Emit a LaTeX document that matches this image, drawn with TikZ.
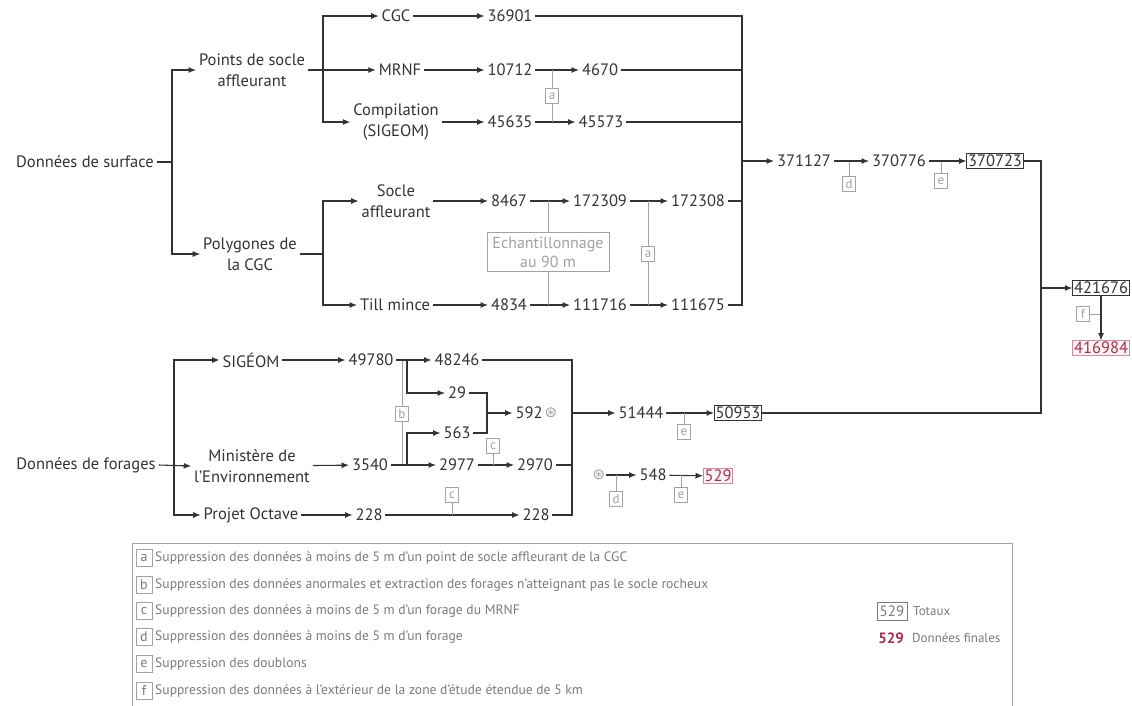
\documentclass[tikz,border=0pt]{standalone}
\usepackage{fontspec}
\setmainfont{PT Sans}
\newfontfamily\symbfont{DejaVu Sans}
\usetikzlibrary{arrows.meta}

\definecolor{ink}{HTML}{333333}
\definecolor{pale}{HTML}{A2A2A2}
\definecolor{legtxt}{HTML}{7A7A7A}
\definecolor{finale}{HTML}{A3324F}

\tikzset{
  lbl/.style={inner sep=3pt, outer sep=0pt, text=ink, align=center,
    font=\fontsize{16.5}{21}\selectfont},
  tot/.style={lbl, draw=ink, line width=1pt, inner sep=1.5pt},
  fin/.style={lbl, draw=finale!55, fill=finale!7, text=finale, line width=1pt, inner sep=1.5pt},
  lettre/.style={draw=pale, fill=white, text=pale, inner sep=0pt, line width=0.8pt,
    minimum width=13pt, minimum height=15pt, font=\fontsize{13}{13}\selectfont},
  flow/.style={draw=ink, line width=1.1pt, -{Latex[length=7.5pt,width=6pt]}},
  lien/.style={draw=ink, line width=1.1pt},
  filtre/.style={draw=pale, line width=1pt},
  etoile/.style={text=pale, inner sep=1pt, font=\symbfont\fontsize{15}{15}\selectfont},
  legende/.style={anchor=west, text=legtxt, inner sep=0pt, font=\fontsize{13.6}{14}\selectfont},
}

\begin{document}
\begin{tikzpicture}[x=1pt, y=-1pt]
  \useasboundingbox (0,0) rectangle (1132,705);

  % Surface data
  \node[lbl] (surf) at (85,162) {Données de surface};
  \node[lbl] (pts) at (252,70) {Points de socle\\affleurant};
  \node[lbl] (poly) at (250,254) {Polygones de\\la CGC};
  \node[lbl] (cgc) at (396,16) {CGC};
  \node[lbl] (mrnf) at (400,70) {MRNF};
  \node[lbl] (comp) at (396,122) {Compilation\\(SIGEOM)};
  \node[lbl] (socle) at (396,201) {Socle\\affleurant};
  \node[lbl] (till) at (395,305) {Till mince};

  \node[lbl] (n36901) at (510,16) {36901};
  \node[lbl] (n10712) at (510,70) {10712};
  \node[lbl] (n4670) at (600,70) {4670};
  \node[lbl] (n45635) at (510,122) {45635};
  \node[lbl] (n45573) at (601,122) {45573};
  \node[lbl] (n8467) at (509,201) {8467};
  \node[lbl] (n172309) at (600,201) {172309};
  \node[lbl] (n172308) at (698,201) {172308};
  \node[lbl] (n4834) at (509,305) {4834};
  \node[lbl] (n111716) at (600,305) {111716};
  \node[lbl] (n111675) at (698,305) {111675};

  \node[lbl] (n371127) at (804,161) {371127};
  \node[lbl] (n370776) at (899,161) {370776};
  \node[tot] (n370723) at (995,161) {370723};
  \node[tot] (n421676) at (1101,288) {421676};
  \node[fin] (n416984) at (1101,348) {416984};

  \node[lettre] (fa1) at (552,96) {a};
  \node[lettre] (fa2) at (648,254) {a};
  \node[lettre, minimum width=122pt, minimum height=39pt, font=\fontsize{16}{19}\selectfont, align=center] (ech) at (548,252) {Echantillonnage\\au 90 m};
  \node[lettre] (fd1) at (849,184) {d};
  \node[lettre] (fe1) at (941,181) {e};
  \node[lettre] (ff) at (1083,314) {f};

  \coordinate (js) at (172,162);
  \coordinate (jp) at (323,70);
  \coordinate (jq) at (323,254);
  \coordinate (jt) at (742,161);
  \coordinate (jr) at (1041,288);

  % Draw surface branches
  \draw[lien] (surf.east) -- (js);
  \draw[flow] (js) |- (pts.west);
  \draw[flow] (js) |- (poly.west);
  \draw[flow] (pts.east) -- (mrnf.west);
  \draw[flow] (jp) |- (cgc.west);
  \draw[flow] (jp) |- (comp.west);
  \draw[lien] (poly.east) -- (jq);
  \draw[flow] (jq) |- (socle.west);
  \draw[flow] (jq) |- (till.west);

  \draw[flow] (cgc) -- (n36901);
  \draw[flow] (mrnf) -- (n10712);
  \draw[flow] (n10712) -- (n4670);
  \draw[flow] (comp) -- (n45635);
  \draw[flow] (n45635) -- (n45573);
  \draw[flow] (socle) -- (n8467);
  \draw[flow] (n8467) -- (n172309);
  \draw[flow] (n172309) -- (n172308);
  \draw[flow] (till) -- (n4834);
  \draw[flow] (n4834) -- (n111716);
  \draw[flow] (n111716) -- (n111675);

  % Draw filters
  \draw[filtre] (fa1.north) -- (fa1 |- n10712);
  \draw[filtre] (fa1.south) -- (fa1 |- n45635);
  \draw[filtre] (ech.north) -- (ech |- n8467);
  \draw[filtre] (ech.south) -- (ech |- n4834);
  \draw[filtre] (fa2.north) -- (fa2 |- n172309);
  \draw[filtre] (fa2.south) -- (fa2 |- n111716);
  \draw[filtre] (fd1.north) -- (fd1 |- n371127);
  \draw[filtre] (fe1.north) -- (fe1 |- n370776);
  \draw[filtre] (ff.east) -- (ff.east -| n421676);

  % Draw totals
  \foreach \n in {n36901, n4670, n45573, n172308, n111675}
    \draw[lien] (\n.east) -| (jt);
  \draw[flow] (jt) -- (n371127.west);
  \draw[flow] (n371127) -- (n370776);
  \draw[flow] (n370776) -- (n370723);
  \draw[lien] (n370723.east) -| (jr);
  \draw[flow] (jr) -- (n421676.west);
  \draw[flow] (n421676) -- (n416984);

  % Drill hole data
  \node[lbl] (forg) at (86,465) {Données de forages};
  \node[lbl] (sig) at (251,360) {SIGÉOM};
  \node[lbl] (mini) at (252,466) {Ministère de\\l’Environnement};
  \node[lbl] (oct) at (251,515) {Projet Octave};
  \node[lbl] (n49780) at (371,360) {49780};
  \node[lbl] (n3540) at (370,465) {3540};
  \node[lbl] (n228a) at (369,515) {228};
  \node[lbl] (n48246) at (457,360) {48246};
  \node[lbl] (n29) at (457,393) {29};
  \node[lbl] (n563) at (457,433) {563};
  \node[lbl] (n2977) at (457,465) {2977};
  \node[lbl] (n592) at (529,413) {592};
  \node[etoile] (st1) at (551,413) {⊛};
  \node[lbl] (n2970) at (535,465) {2970};
  \node[lbl] (n228b) at (536,515) {228};
  \node[lbl] (n51444) at (641,413) {51444};
  \node[tot] (n50953) at (738,413) {50953};
  \node[etoile] (st2) at (599,475) {⊛};
  \node[lbl] (n548) at (653,475) {548};
  \node[fin] (n529) at (718,476) {529};

  \node[lettre] (fb) at (402,414) {b};
  \node[lettre] (fc1) at (493,446) {c};
  \node[lettre] (fc2) at (452,495) {c};
  \node[lettre] (fe2) at (684,432) {e};
  \node[lettre] (fd2) at (616,499) {d};
  \node[lettre] (fe3) at (681,495) {e};

  \coordinate (jf) at (174,465);
  \coordinate (jb1) at (407,360);
  \coordinate (jb2) at (407,465);
  \coordinate (jm) at (487,413);
  \coordinate (jg) at (572,413);

  % Draw drill hole branches
  \draw[filtre] (fb.north) -- (fb |- n49780);
  \draw[filtre] (fb.south) -- (fb |- n3540);
  \draw[flow] (forg.east) -- (mini.west);
  \draw[flow] (jf) |- (sig.west);
  \draw[flow] (jf) |- (oct.west);
  \draw[flow] (sig) -- (n49780);
  \draw[flow] (mini) -- (n3540);
  \draw[flow] (oct) -- (n228a);
  \draw[flow] (n49780) -- (n48246);
  \draw[flow] (jb1) |- (n29.west);
  \draw[flow] (n3540) -- (n2977);
  \draw[flow] (jb2) |- (n563.west);
  \draw[lien] (n29.east) -| (jm);
  \draw[lien] (n563.east) -| (jm);
  \draw[flow] (jm) -- (n592.west);
  \draw[flow] (n2977) -- (n2970);
  \draw[flow] (n228a) -- (n228b);
  \draw[filtre] (fc1.south) -- (fc1 |- n2977);
  \draw[filtre] (fc2.south) -- (fc2 |- n228a);

  \foreach \n in {n48246, n2970, n228b}
    \draw[lien] (\n.east) -| (jg);
  \draw[flow] (jg) -- (n51444.west);
  \draw[flow] (n51444) -- (n50953);
  \draw[filtre] (fe2.north) -- (fe2 |- n51444);
  \draw[lien] (n50953.east) -| (jr);

  \draw[flow] (st2) -- (n548);
  \draw[flow] (n548) -- (n529);
  \draw[filtre] (fd2.north) -- (fd2 |- st2);
  \draw[filtre] (fe3.north) -- (fe3 |- n548);

  % Draw legend
  \draw[pale, line width=0.8pt] (132,710) -- (132,543) -- (1012,543) -- (1012,710);
  \foreach \l/\y/\t in {a/558/{Suppression des données à moins de 5 m d’un point de socle affleurant de la CGC},
                        b/585/{Suppression des données anormales et extraction des forages n’atteignant pas le socle rocheux},
                        c/611/{Suppression des données à moins de 5 m d’un forage du MRNF},
                        d/637/{Suppression des données à moins de 5 m d’un forage},
                        e/664/{Suppression des doublons},
                        f/691/{Suppression des données à l’extérieur de la zone d’étude étendue de 5 km}} {
    \node[lettre, minimum width=16pt, minimum height=17pt, text=legtxt, font=\fontsize{14}{14}\selectfont] (leg\l) at (144,\y) {\l};
    \node[legende] (txt\l) at (155,\y) {\t};
  }
  \node[lettre, draw=legtxt, text=legtxt, minimum width=30pt, minimum height=18pt, font=\fontsize{15}{15}\selectfont] (legtot) at (892,611) {529};
  \node[legende, font=\fontsize{13}{13}\selectfont] (txttot) at (913,611) {Totaux};
  \node[text=finale, inner sep=0pt, font=\fontsize{15}{15}\selectfont\bfseries] (legfin) at (891,638) {529};
  \node[legende, font=\fontsize{13}{13}\selectfont] (txtfin) at (912,638) {Données finales};

\end{tikzpicture}
\end{document}
